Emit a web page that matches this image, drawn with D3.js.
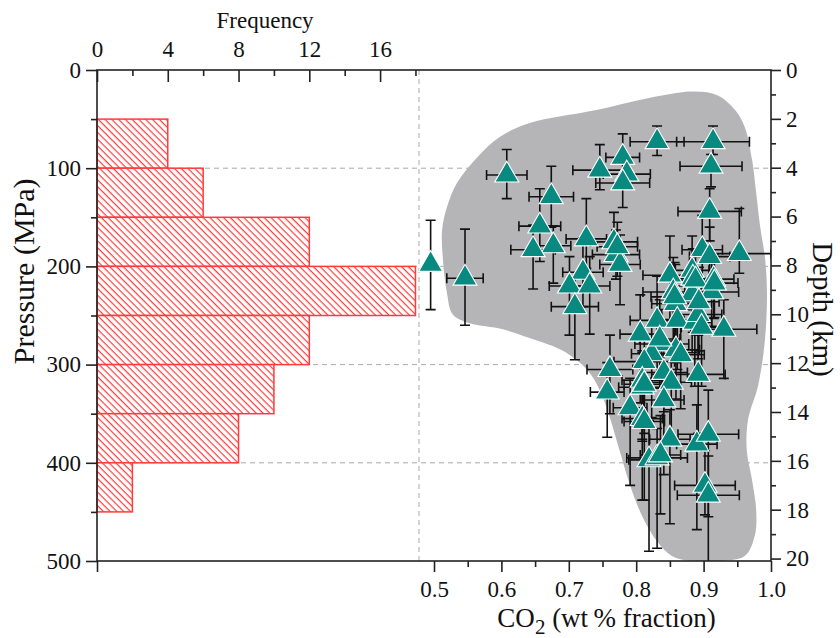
<!DOCTYPE html>
<html>
<head>
<meta charset="utf-8">
<script src="https://cdnjs.cloudflare.com/ajax/libs/d3/7.8.5/d3.min.js"></script>
<style>
  body { margin: 0; background: #fff; }
  #chart text { font-family: "Liberation Serif", "Times New Roman", serif; fill: #111; }
</style>
</head>
<body>
<div id="chart"></div>
<script>
// pressure histogram (left panel), 50 MPa bins
var binStart = [50, 100, 150, 200, 250, 300, 350, 400];
var binFreq = [4, 6, 12, 18, 12, 10, 8, 2];

// melt inclusions: CO2 fraction vs entrapment pressure
var co2 = [0.495,0.546,0.608,0.674,0.657,0.677,0.647,0.726,0.746,0.780,
           0.786,0.780,0.831,0.914,0.911,0.909,0.898,0.909,0.953,0.767,
           0.770,0.776,0.721,0.701,0.731,0.709,0.850,0.883,0.884,0.915,
           0.855,0.883,0.912,0.858,0.831,0.861,0.887,0.892,0.930,0.806,
           0.838,0.859,0.823,0.812,0.761,0.841,0.852,0.892,0.809,0.757,
           0.809,0.791,0.809,0.841,0.850,0.890,0.907,0.819,0.831,0.902,
           0.907,0.772,0.888,0.857,0.916,0.893,0.866,0.835,0.897,0.812,
           0.812,0.836];
var pressure = [198,212,107,129,159,179,183,172,102,89,
                106,115,73,73,98,144,183,190,187,175,
                188,198,206,220,220,241,209,204,212,213,
                226,228,226,238,255,255,257,249,264,269,
                279,285,289,297,305,308,318,310,316,328,
                323,344,355,336,376,381,371,397,395,423,
                433,180,214,231,217,236,290,274,262,320,
                358,392];
var co2Err = [0,0.027,0.030,0.033,0.031,0.026,0.033,0.030,0.040,0.025,
              0.035,0.040,0.040,0.054,0.046,0.047,0.030,0.030,0.047,0.035,
              0.035,0.030,0.030,0.030,0.030,0.035,0.040,0.025,0.030,0.030,
              0.045,0.030,0.040,0.035,0.040,0.030,0.025,0.035,0.049,0.030,
              0.040,0.035,0.030,0.045,0.034,0.035,0.030,0.040,0.030,0.025,
              0.035,0.025,0.030,0.030,0.030,0.030,0.045,0.030,0.045,0.045,
              0.046,0.030,0.030,0.035,0.035,0.030,0.035,0.030,0.030,0.030,
              0.030,0.030];
var pErrUp = [45,50,26,31,38,20,25,41,26,24,
              15,22,16,16,12,23,35,30,46,30,
              25,30,35,30,30,30,40,35,30,25,
              35,30,30,40,45,35,30,40,30,40,
              35,40,30,35,35,30,35,40,30,30,
              35,30,35,30,30,40,45,40,30,35,
              40,25,30,35,25,35,35,40,30,30,
              35,40];
var pErrDown = [46,48,24,31,36,38,40,30,20,17,
                15,25,14,13,21,30,40,35,20,30,
                25,41,35,50,49,54,45,40,55,40,
                50,60,35,60,55,50,65,45,50,70,
                55,50,65,60,45,40,55,60,60,46,
                55,79,83,76,86,87,129,93,92,30,
                22,30,45,55,35,50,55,50,60,50,
                80,60];

// outline of the grey field, (CO2, MPa)
var fieldCo2 = [0.887,0.921,0.947,0.961,0.972,0.978,0.984,0.991,0.994,0.991,
                0.981,0.966,0.964,0.972,0.978,0.976,0.961,0.924,0.880,0.853,
                0.832,0.810,0.791,0.776,0.761,0.746,0.728,0.694,0.642,0.602,
                0.553,0.528,0.519,0.513,0.512,0.519,0.534,0.564,0.598,0.642,
                0.739,0.838];
var fieldP = [22,26,41,58,92,125,160,191,226,275,
              321,356,387,418,448,474,495,500,500,495,
              481,456,423,389,354,326,306,287,273,264,
              258,249,226,191,163,140,115,89,68,54,
              41,26];

// tick labels
var pressureTicks = [0, 100, 200, 300, 400, 500];
var pressureMinor = [50, 150, 250, 350, 450];
var freqTicks = [0, 4, 8, 12, 16];
var freqMinor = [2, 6, 10, 14, 18];
var co2Ticks = [0.5, 0.6, 0.7, 0.8, 0.9, 1.0];
var co2Minor = [0.55, 0.65, 0.75, 0.85, 0.95];
var depthTicks = [0, 2, 4, 6, 8, 10, 12, 14, 16, 18, 20];
var depthMinor = [1, 3, 5, 7, 9, 11, 13, 15, 17, 19];

// chart dimensions (note: "top" is taken by window.top)
var width = 840, height = 638;
var plotL = 97, plotR = 771, plotT = 70, plotB = 561;

var x = d3.scaleLinear().domain([0, 1]).range([plotL, plotR]); // CO2
var y = d3.scaleLinear().domain([0, 500]).range([plotT, plotB]); // pressure, down
var xFreq = d3.scaleLinear().domain([0, 18.2]).range([plotL, 419]); // histogram
var yDepth = d3.scaleLinear().domain([0, 20.1]).range([plotT, plotB]);

var svg = d3.select('#chart').append('svg')
  .attr('width', width)
  .attr('height', height);

var defs = svg.append('defs');
defs.append('clipPath').attr('id', 'plot')
  .append('rect').attr('x', plotL).attr('y', plotT)
  .attr('width', plotR - plotL).attr('height', plotB - plotT);

// red diagonal hatching for the bars
var hatch = defs.append('pattern')
  .attr('id', 'hatch')
  .attr('patternUnits', 'userSpaceOnUse')
  .attr('width', 4.8).attr('height', 4.8)
  .attr('patternTransform', 'rotate(45)');
hatch.append('line')
  .attr('x1', 0).attr('y1', 0).attr('x2', 4.8).attr('y2', 0)
  .attr('stroke', '#ff3b3b').attr('stroke-width', 2.4);

// dashed grid
svg.append('g').selectAll('line')
  .data([100, 200, 300, 400])
  .join('line')
  .attr('x1', plotL).attr('x2', plotR)
  .attr('y1', function(d) { return y(d); })
  .attr('y2', function(d) { return y(d); })
  .attr('stroke', '#a9a9a9').attr('stroke-width', 1)
  .attr('stroke-dasharray', '5,4');
svg.append('line')
  .attr('x1', xFreq(18.2)).attr('x2', xFreq(18.2))
  .attr('y1', plotT).attr('y2', plotB)
  .attr('stroke', '#a9a9a9').attr('stroke-width', 1)
  .attr('stroke-dasharray', '5,4');

// grey field
var fieldLine = d3.line()
  .x(function(d) { return x(d[0]); })
  .y(function(d) { return y(d[1]); })
  .curve(d3.curveCatmullRomClosed.alpha(0.5));
svg.append('path')
  .datum(d3.zip(fieldCo2, fieldP))
  .attr('clip-path', 'url(#plot)')
  .attr('d', fieldLine)
  .attr('fill', '#b5b5b7');

// histogram
var bins = d3.zip(binStart, binFreq);
var bars = svg.append('g').selectAll('g')
  .data(bins)
  .join('g');
bars.append('rect')
  .attr('x', plotL)
  .attr('y', function(d) { return y(d[0]); })
  .attr('width', function(d) { return xFreq(d[1]) - plotL; })
  .attr('height', function(d) { return y(d[0] + 50) - y(d[0]); })
  .attr('fill', '#fff');
bars.append('rect')
  .attr('x', plotL)
  .attr('y', function(d) { return y(d[0]); })
  .attr('width', function(d) { return xFreq(d[1]) - plotL; })
  .attr('height', function(d) { return y(d[0] + 50) - y(d[0]); })
  .attr('fill', 'url(#hatch)')
  .attr('stroke', '#ff3b3b').attr('stroke-width', 1.5);

// points with error bars
var points = co2.map(function(c, i) {
  return { c: c, p: pressure[i], ce: co2Err[i], up: pErrUp[i], down: pErrDown[i] };
});
var cap = 5;
var err = svg.append('g')
  .attr('clip-path', 'url(#plot)')
  .attr('stroke', '#121212').attr('stroke-width', 1.6).attr('fill', 'none');
var errPath = function(d) {
  var cx = x(d.c), cy = y(d.p);
  var y0 = y(d.p - d.up), y1 = y(Math.min(500, d.p + d.down));
  var s = 'M' + cx + ',' + y0 + 'V' + y1;
  s += 'M' + (cx - cap) + ',' + y0 + 'H' + (cx + cap);
  if (d.p + d.down < 500) s += 'M' + (cx - cap) + ',' + y1 + 'H' + (cx + cap);
  if (d.ce > 0) {
    var x0 = x(d.c - d.ce), x1 = x(d.c + d.ce);
    s += 'M' + x0 + ',' + cy + 'H' + x1;
    s += 'M' + x0 + ',' + (cy - cap) + 'V' + (cy + cap);
    s += 'M' + x1 + ',' + (cy - cap) + 'V' + (cy + cap);
  }
  return s;
};
err.selectAll('path')
  .data(points)
  .join('path')
  .attr('d', errPath);

var tri = d3.symbol().type(d3.symbolTriangle).size(250);
svg.append('g').selectAll('path')
  .data(points)
  .join('path')
  .attr('d', tri)
  .attr('transform', function(d) { return 'translate(' + x(d.c) + ',' + y(d.p) + ')'; })
  .attr('fill', '#088a80')
  .attr('stroke', '#ffffff').attr('stroke-width', 1.1);

// frame
svg.append('rect')
  .attr('x', plotL).attr('y', plotT)
  .attr('width', plotR - plotL).attr('height', plotB - plotT)
  .attr('fill', 'none').attr('stroke', '#222').attr('stroke-width', 1.6);

// axes
function styleAxis(g, size) {
  g.select('.domain').remove();
  g.selectAll('.tick line').attr('stroke', '#222').attr('stroke-width', 1.6);
  g.selectAll('.tick text').style('font-size', size + 'px');
}

svg.append('g').attr('transform', 'translate(' + plotL + ',0)')
  .call(d3.axisLeft(y).tickValues(pressureTicks).tickSize(11).tickPadding(5))
  .call(styleAxis, 23);
svg.append('g').attr('transform', 'translate(' + plotL + ',0)')
  .call(d3.axisLeft(y).tickValues(pressureMinor).tickSize(6).tickFormat(''))
  .call(styleAxis, 23);

svg.append('g').attr('transform', 'translate(0,' + plotT + ')')
  .call(d3.axisTop(xFreq).tickValues(freqTicks).tickSize(-12).tickPadding(13))
  .call(styleAxis, 23);
svg.append('g').attr('transform', 'translate(0,' + plotT + ')')
  .call(d3.axisTop(xFreq).tickValues(freqMinor).tickSize(-6).tickFormat(''))
  .call(styleAxis, 23);

svg.append('g').attr('transform', 'translate(0,' + plotB + ')')
  .call(d3.axisBottom(x).tickValues(co2Ticks).tickSize(11).tickPadding(9).tickFormat(d3.format('.1f')))
  .call(styleAxis, 23);
svg.append('g').attr('transform', 'translate(0,' + plotB + ')')
  .call(d3.axisBottom(x).tickValues(co2Minor).tickSize(6).tickFormat(''))
  .call(styleAxis, 23);
svg.append('g').attr('transform', 'translate(0,' + plotB + ')')
  .call(d3.axisBottom(x).tickValues([0]).tickSize(11).tickFormat(''))
  .call(styleAxis, 23);

svg.append('g').attr('transform', 'translate(' + plotR + ',0)')
  .call(d3.axisRight(yDepth).tickValues(depthTicks).tickSize(10).tickPadding(5))
  .call(styleAxis, 23);
svg.append('g').attr('transform', 'translate(' + plotR + ',0)')
  .call(d3.axisRight(yDepth).tickValues(depthMinor).tickSize(5).tickFormat(''))
  .call(styleAxis, 23);

// axis titles
svg.append('text')
  .attr('x', xFreq(9.5)).attr('y', 28)
  .attr('text-anchor', 'middle')
  .style('font-size', '23px')
  .text('Frequency');

svg.append('text')
  .attr('transform', 'translate(34,' + y(205) + ') rotate(-90)')
  .attr('text-anchor', 'middle')
  .style('font-size', '30px')
  .text('Pressure (MPa)');

svg.append('text')
  .attr('transform', 'translate(813,' + yDepth(9.8) + ') rotate(90)')
  .attr('text-anchor', 'middle')
  .style('font-size', '29px')
  .text('Depth (km)');

var co2Title = svg.append('text')
  .attr('x', x(0.756)).attr('y', 627)
  .attr('text-anchor', 'middle')
  .style('font-size', '27px');
co2Title.append('tspan').text('CO');
co2Title.append('tspan').attr('dy', 7).style('font-size', '21px').text('2');
co2Title.append('tspan').attr('dy', -7).text(' (wt\u2009% fraction)');
</script>
</body>
</html>
